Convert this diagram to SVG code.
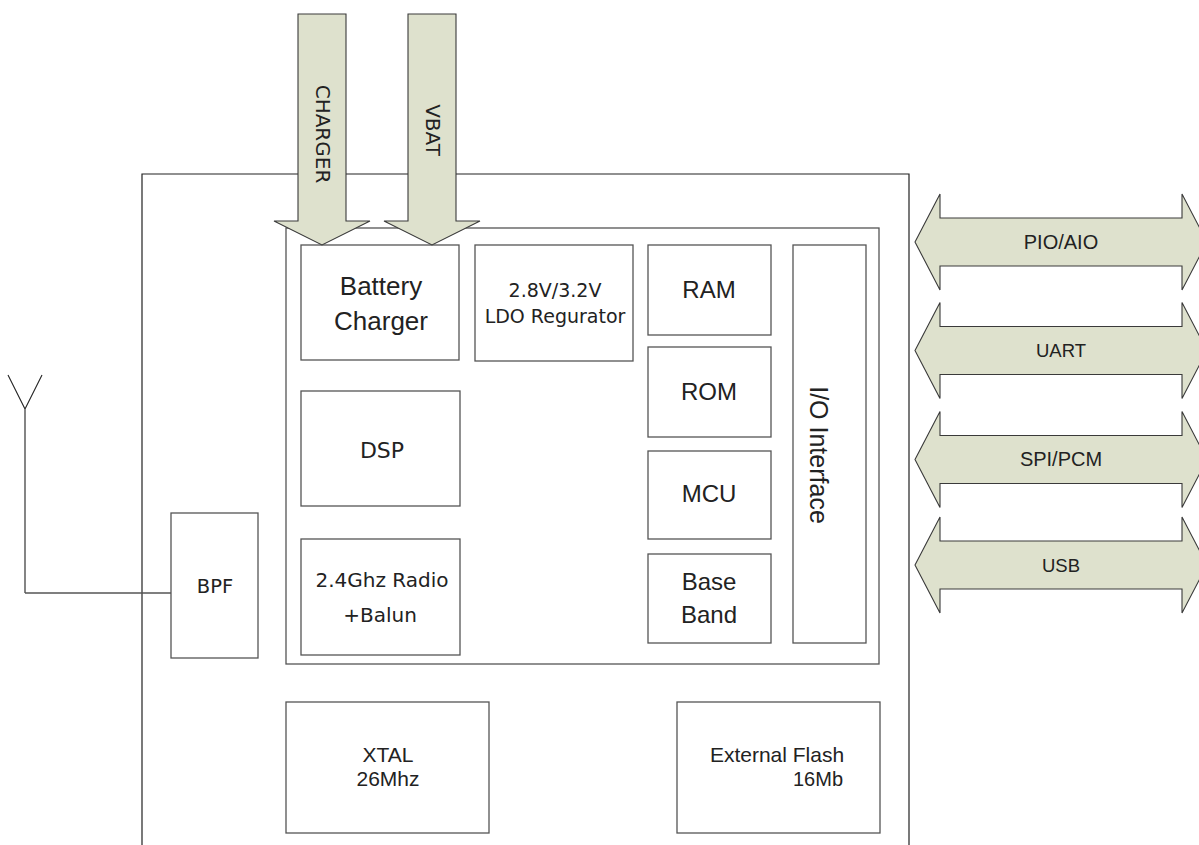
<svg xmlns="http://www.w3.org/2000/svg" width="1199" height="845" viewBox="0 0 1199 845">
<style>
.box{fill:#fff;stroke:#555;stroke-width:1.3}
.frame{fill:none;stroke:#222;stroke-width:1.2}
.arr{fill:#dee1cd;stroke:#3a3a3a;stroke-width:1.1}
.h{font-family:"Liberation Sans",Arial,sans-serif;fill:#222}
.g{font-family:"DejaVu Sans","Liberation Sans",sans-serif;fill:#222}
text{text-anchor:middle}
</style>
<rect width="1199" height="845" fill="#fff"/>
<path class="frame" d="M142,845 V174 H909 V845"/>
<rect id="core" class="box" x="286" y="228" width="593" height="436"/>
<g id="connectors">
  <path d="M8,375 L25,409 L42,375 M25,409 V593" fill="none" stroke="#222" stroke-width="1.1"/>
  <path d="M25,593 H171" fill="none" stroke="#555" stroke-width="1.4"/>
</g>
<g id="bpf"><rect class="box" x="171" y="513" width="87" height="145"/><text class="g" x="215" y="593" font-size="19.5">BPF</text></g>
<g id="battery-charger"><rect class="box" x="301" y="245" width="158" height="115"/><text class="h" x="381" y="295" font-size="26">Battery</text><text class="h" x="381" y="330" font-size="26">Charger</text></g>
<g id="ldo"><rect class="box" x="475" y="245" width="158" height="116"/><text class="g" x="555" y="297" font-size="19">2.8V/3.2V</text><text class="g" x="555" y="323" font-size="19">LDO Regurator</text></g>
<g id="ram"><rect class="box" x="648" y="245" width="123" height="90"/><text class="h" x="709" y="298" font-size="24">RAM</text></g>
<g id="rom"><rect class="box" x="648" y="347" width="123" height="90"/><text class="h" x="709" y="400" font-size="24">ROM</text></g>
<g id="mcu"><rect class="box" x="648" y="451" width="123" height="88"/><text class="h" x="709" y="502" font-size="24">MCU</text></g>
<g id="baseband"><rect class="box" x="648" y="554" width="123" height="89"/><text class="h" x="709" y="590" font-size="24">Base</text><text class="h" x="709" y="623" font-size="24">Band</text></g>
<g id="io"><rect class="box" x="793" y="245" width="73" height="398"/><text class="h" font-size="25" transform="translate(810,455) rotate(90)">I/O Interface</text></g>
<g id="dsp"><rect class="box" x="301" y="391" width="159" height="115"/><text class="g" x="382" y="458" font-size="22">DSP</text></g>
<g id="radio"><rect class="box" x="301" y="539" width="159" height="116"/><text class="g" x="382" y="587" font-size="20">2.4Ghz Radio</text><text class="g" x="380" y="622" font-size="20">+Balun</text></g>
<g id="xtal"><rect class="box" x="286" y="702" width="203" height="131"/><text class="h" x="388" y="762" font-size="21">XTAL</text><text class="h" x="388" y="786" font-size="21">26Mhz</text></g>
<g id="flash"><rect class="box" x="677" y="702" width="203" height="131"/><text class="h" x="777" y="762" font-size="21">External Flash</text><text class="h" x="818" y="786" font-size="20">16Mb</text></g>
<g id="charger">
  <path class="arr" d="M298,14 H346 V221 H370 L322,245 L274,221 H298 Z"/>
  <text class="g" font-size="20" transform="translate(316,134) rotate(90)">CHARGER</text>
</g>
<g id="vbat">
  <path class="arr" d="M408,14 H456 V221 H480 L432,245 L384,221 H408 Z"/>
  <text class="g" font-size="20" transform="translate(426,130) rotate(90)">VBAT</text>
</g>
<g id="pio">
  <path class="arr" d="M915,242 L940,194 V218 H1182 V194 L1207,242 L1182,290 V266 H940 V290 Z"/>
  <text class="h" x="1061" y="249" font-size="20" fill="#333">PIO/AIO</text>
</g>
<g id="uart">
  <path class="arr" d="M915,350.5 L940,302.5 V326.5 H1182 V302.5 L1207,350.5 L1182,398.5 V374.5 H940 V398.5 Z"/>
  <text class="h" x="1061" y="357" font-size="18.5" fill="#333">UART</text>
</g>
<g id="spi">
  <path class="arr" d="M915,459.5 L940,411.5 V435.5 H1182 V411.5 L1207,459.5 L1182,507.5 V483.5 H940 V507.5 Z"/>
  <text class="h" x="1061" y="466" font-size="20" fill="#333">SPI/PCM</text>
</g>
<g id="usb">
  <path class="arr" d="M915,565 L940,517 V541 H1182 V517 L1207,565 L1182,613 V589 H940 V613 Z"/>
  <text class="h" x="1061" y="572" font-size="18.5" fill="#333">USB</text>
</g>
</svg>
